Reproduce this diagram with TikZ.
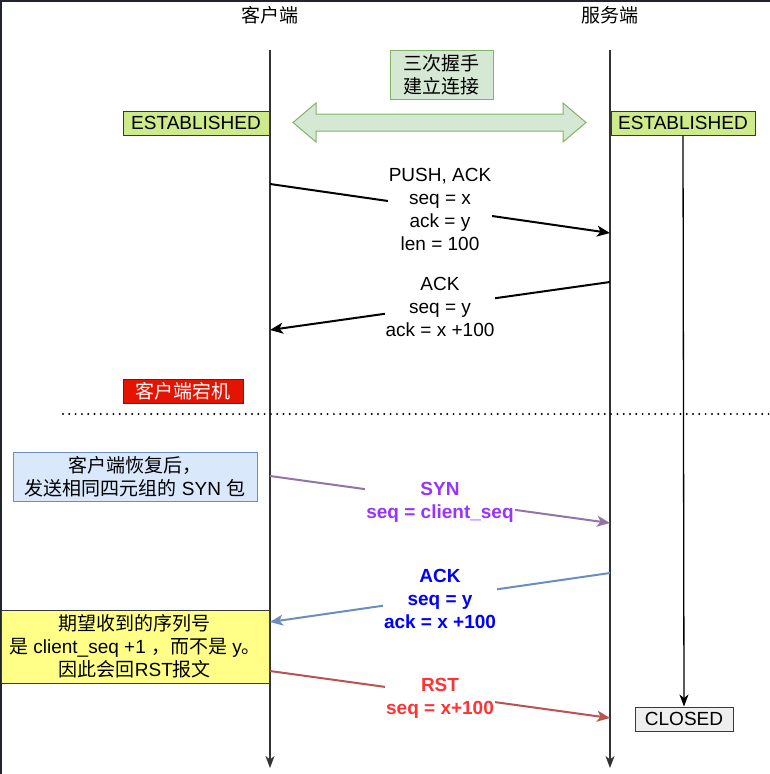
\documentclass[tikz,border=0pt]{standalone}
\usepackage{fontspec}
\setmainfont{Liberation Sans}
\newfontfamily\cjk{Noto Sans CJK SC}
\newcommand\zh[1]{{\cjk #1}}
\usetikzlibrary{arrows.meta}
\definecolor{estfill}{HTML}{CDEB8B}
\definecolor{darkstroke}{HTML}{36393D}
\definecolor{greenfill}{HTML}{D5E8D4}
\definecolor{greenstroke}{HTML}{82B366}
\definecolor{redfill}{HTML}{E51400}
\definecolor{redstroke}{HTML}{B20000}
\definecolor{bluefill}{HTML}{DAE8FC}
\definecolor{bluestroke}{HTML}{6C8EBF}
\definecolor{yellowfill}{HTML}{FFFF88}
\definecolor{closedfill}{HTML}{EEEEEE}
\definecolor{purpleline}{HTML}{9673A6}
\definecolor{redline}{HTML}{B85450}
\definecolor{purpletext}{HTML}{9933FF}
\definecolor{bluetext}{HTML}{0000FF}
\definecolor{redtext}{HTML}{FF3333}
\definecolor{framecol}{HTML}{22262C}
\definecolor{lifecol}{HTML}{333333}
\tikzset{
  lifeline/.style={draw=lifecol, line width=1.3pt, -{Stealth[length=12pt,width=9pt,inset=3.5pt]}},
  msg/.style={line width=2pt, -{Stealth[length=13pt,width=11pt,inset=3.5pt]}},
  lbl/.style={fill=white, inner sep=1pt, align=center},
  boldlbl/.style={lbl, font=\fontsize{19}{23}\selectfont\bfseries, yshift=-2.5pt},
  statebox/.style={draw=darkstroke, line width=1pt, minimum height=24pt, inner sep=0pt, align=center},
  notebox/.style={line width=1pt, inner sep=0pt, align=center},
  title/.style={inner sep=0pt},
}
\begin{document}
\begin{tikzpicture}[x=1pt,y=-1pt, font=\fontsize{19}{23}\selectfont]
\useasboundingbox (0,0) rectangle (770,774);
\fill[white] (0,0) rectangle (770,774);
% frame edges
\draw[framecol, line width=1.5pt] (0.75,774) -- (0.75,0.75) -- (770,0.75);

% titles
\node[title] (tc) at (270,15) {\zh{客户端}};
\node[title] (ts) at (610,15) {\zh{服务端}};

% lifelines
\coordinate (cT) at (270,50);
\coordinate (cB) at (270,768);
\coordinate (sT) at (610,50);
\coordinate (sB) at (610,768);
\draw[lifeline] (cT) -- (cB);
\draw[lifeline] (sT) -- (sB);

% handshake
\node[notebox, draw=greenstroke, fill=greenfill, minimum width=103pt, minimum height=49pt] (hs) at (441.5,74.5) {\zh{三次握手}\\\zh{建立连接}};
\draw[draw=greenstroke, fill=greenfill, line width=1pt] (293,122.5) -- (316,103) -- (316,114) -- (563,114) -- (563,103) -- (586,122.5) -- (563,142) -- (563,131) -- (316,131) -- (316,142) -- cycle;

% states
\node[statebox, fill=estfill, minimum width=146pt] (estL) at (196,123) {ESTABLISHED};
\node[statebox, fill=estfill, minimum width=144pt] (estR) at (683,123) {ESTABLISHED};
\node[statebox, fill=closedfill, minimum width=98pt] (closed) at (684,719) {CLOSED};
\draw[line width=1.3pt, -{Stealth[length=12pt,width=9pt,inset=3.5pt]}] (estR.south) -- (closed.north);

% data messages
\coordinate (m1a) at (270,184);
\coordinate (m1b) at (610,233);
\draw[msg] (m1a) -- node[lbl, yshift=-1pt] (l1) {PUSH, ACK\\seq = x\\ack = y\\len = 100} (m1b);
\coordinate (m2a) at (610,282);
\coordinate (m2b) at (270,330);
\draw[msg] (m2a) -- node[lbl, yshift=-1pt] (l2) {ACK\\seq = y\\ack = x +100} (m2b);

% crash
\node[notebox, draw=redstroke, fill=redfill, text=white, minimum width=120pt, minimum height=24pt] (crash) at (183,391) {\zh{客户端宕机}};
\coordinate (dotL) at (63,414);
\coordinate (dotR) at (770,414);
\draw[line width=2.2pt, line cap=round, dash pattern=on 0pt off 6.3pt] (dotL) -- (dotR);

% recovery
\node[notebox, draw=bluestroke, fill=bluefill, minimum width=244pt, minimum height=49pt] (rec) at (135,476.5) {\zh{客户端恢复后，}\\\zh{发送相同四元组的} SYN \zh{包}};
\coordinate (m3a) at (270,476);
\coordinate (m3b) at (610,523);
\draw[msg, draw=purpleline] (m3a) -- node[boldlbl, text=purpletext] (l3) {SYN\\seq = client\_seq} (m3b);

\coordinate (m4a) at (610,573);
\coordinate (m4b) at (270,622);
\draw[msg, draw=bluestroke] (m4a) -- node[boldlbl, text=bluetext, yshift=1.5pt] (l4) {ACK\\seq = y\\ack = x +100} (m4b);

\node[notebox, draw=darkstroke, fill=yellowfill, minimum width=268pt, minimum height=73pt] (exp) at (135,646.5) {\zh{期望收到的序列号}\\\zh{是} client\_seq +1 \zh{，而不是} y\zh{。}\\\zh{因此会回}RST\zh{报文}};

\coordinate (m5a) at (270,671);
\coordinate (m5b) at (610,718);
\draw[msg, draw=redline] (m5a) -- node[boldlbl, text=redtext, yshift=-1pt] (l5) {RST\\seq = x+100} (m5b);
\end{tikzpicture}
\end{document}
